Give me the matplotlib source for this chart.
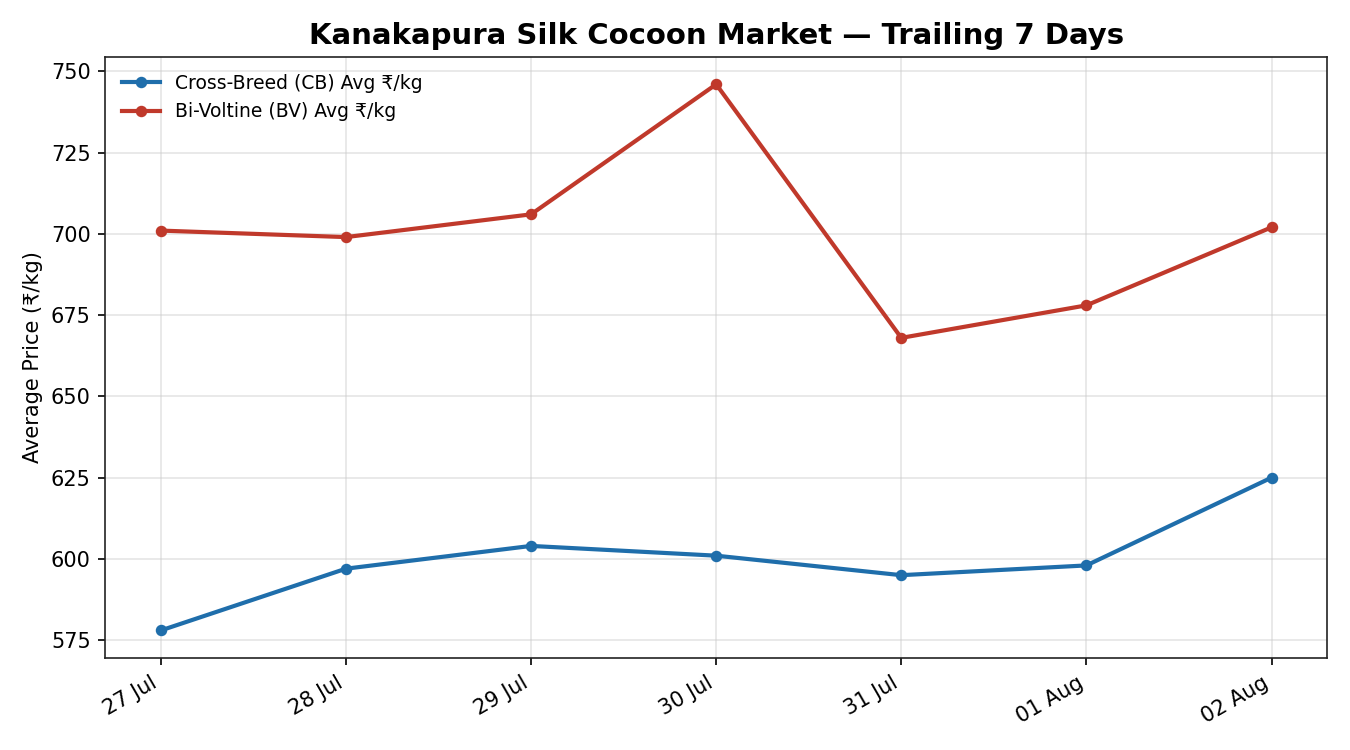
import matplotlib
matplotlib.use("Agg")
import matplotlib.pyplot as plt
import matplotlib.dates as mdates
import numpy as np

# trailing 7 days of market averages
dates = np.array(['2024-07-27', '2024-07-28', '2024-07-29', '2024-07-30',
                  '2024-07-31', '2024-08-01', '2024-08-02'], dtype='datetime64[D]')
cb_avg = [578, 597, 604, 601, 595, 598, 625]
bv_avg = [701, 699, 706, 746, 668, 678, 702]

fig, ax = plt.subplots(figsize=(9, 5), dpi=150)
fig.subplots_adjust(left=0.078, right=0.983, top=0.924, bottom=0.123)

ax.plot(dates, cb_avg, marker='o', markersize=4.5, linewidth=2, color='#1f6eab',
        label='Cross-Breed (CB) Avg ₹/kg')
ax.plot(dates, bv_avg, marker='o', markersize=4.5, linewidth=2, color='#c0392b',
        label='Bi-Voltine (BV) Avg ₹/kg')

ax.set_title('Kanakapura Silk Cocoon Market — Trailing 7 Days',
             fontsize=14, fontweight='bold')
ax.set_ylabel('Average Price (₹/kg)', fontsize=10)
ax.tick_params(labelsize=10)
ax.grid(True, color='#cccccc', alpha=0.5, linewidth=0.8)
for s in ax.spines.values():
    s.set_color('#222222')

ax.xaxis.set_major_locator(mdates.DayLocator())
ax.xaxis.set_major_formatter(mdates.DateFormatter('%d %b'))
plt.setp(ax.get_xticklabels(), rotation=30, ha='right')

ax.legend(loc='upper left', frameon=False, fontsize=9)

fig.savefig('out.png')
